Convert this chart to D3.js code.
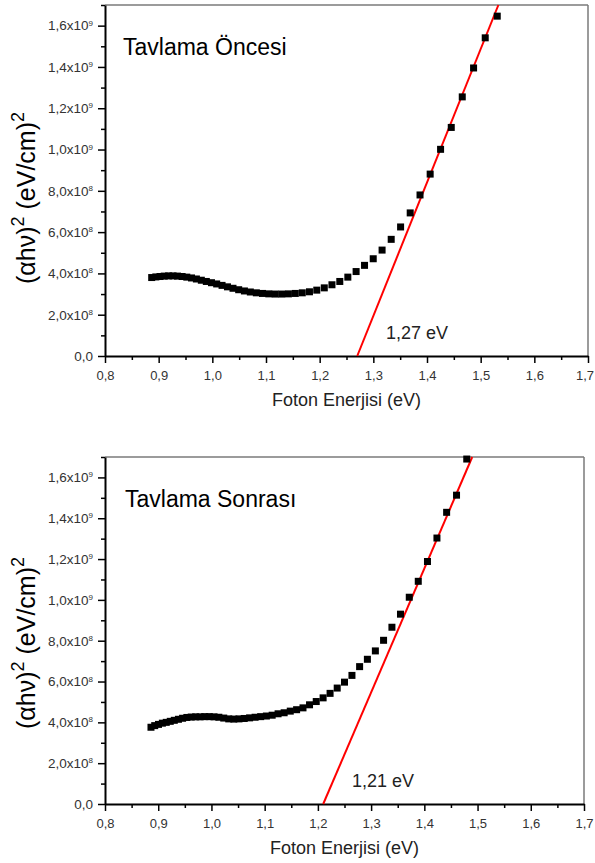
<!DOCTYPE html>
<html><head><meta charset="utf-8">
<script src="https://cdn.jsdelivr.net/npm/d3@7"></script>
<style>body{margin:0;background:#fff;} svg{display:block;font-family:"Liberation Sans",Arial,sans-serif;}</style>
</head><body><svg id="c" width="595" height="863"></svg>
<script>
// ---- DATA ----
const energyBefore = [1.5309,1.5085,1.4868,1.4657,1.4452,1.4253,1.4059,1.3870,1.3687,1.3508,1.3333,1.3163,1.2998,1.2836,1.2679,1.2525,1.2375,1.2229,1.2086,1.1946,1.1810,1.1676,1.1546,1.1418,1.1293,1.1171,1.1052,1.0935,1.0820,1.0708,1.0598,1.0491,1.0385,1.0282,1.0181,1.0081,0.9984,0.9888,0.9795,0.9703,0.9612,0.9524,0.9437,0.9351,0.9268,0.9185,0.9104,0.9025,0.8947,0.8870];
const valueBefore = [16.46,15.41,13.95,12.55,11.07,10.01,8.81,7.80,6.93,6.25,5.65,5.13,4.71,4.39,4.09,3.82,3.61,3.45,3.30,3.19,3.11,3.06,3.03,3.01,3.00,3.00,3.01,3.03,3.06,3.10,3.15,3.21,3.28,3.35,3.42,3.49,3.55,3.61,3.67,3.73,3.78,3.82,3.85,3.87,3.88,3.88,3.87,3.85,3.83,3.80]; // x1e8
const energyAfter = [1.4797,1.4605,1.4419,1.4237,1.4059,1.3886,1.3717,1.3552,1.3391,1.3234,1.3080,1.2930,1.2784,1.2640,1.2500,1.2363,1.2229,1.2098,1.1969,1.1843,1.1720,1.1600,1.1481,1.1366,1.1252,1.1141,1.1032,1.0925,1.0820,1.0717,1.0616,1.0517,1.0420,1.0325,1.0231,1.0139,1.0049,0.9960,0.9873,0.9787,0.9703,0.9620,0.9538,0.9458,0.9380,0.9302,0.9226,0.9151,0.9078,0.9005,0.8934,0.8864];
const valueAfter = [16.90,15.13,14.29,13.03,11.88,10.91,10.13,9.30,8.66,8.02,7.50,7.09,6.73,6.30,5.97,5.68,5.42,5.20,5.02,4.86,4.71,4.62,4.55,4.47,4.42,4.35,4.31,4.28,4.25,4.22,4.19,4.17,4.16,4.17,4.21,4.25,4.27,4.28,4.28,4.27,4.27,4.26,4.24,4.20,4.15,4.10,4.05,4.00,3.96,3.90,3.84,3.76]; // x1e8
const fitBeforeE = [1.27, 1.533];
const fitBeforeV = [0, 17];
const fitAfterE = [1.21, 1.490];
const fitAfterV = [0, 17];
const xTicks = [0.8,0.9,1.0,1.1,1.2,1.3,1.4,1.5,1.6,1.7];
const xMinor = [0.85,0.95,1.05,1.15,1.25,1.35,1.45,1.55,1.65];
const yTicks = [0,2,4,6,8,10,12,14,16]; // x1e8
const yMinor = [1,3,5,7,9,11,13,15,17];
const titles = ["Tavlama Öncesi","Tavlama Sonrası"];
const gapLabels = ["1,27 eV","1,21 eV"];
const xTitle = "Foton Enerjisi (eV)";

// ---- LAYOUT ----
const panels = [
  {E:energyBefore, V:valueBefore, fE:fitBeforeE, fV:fitBeforeV, title:titles[0], gap:gapLabels[0],
   x0:105, x1:588, y0:356, y1:5, tX:123, tY:55, gX:386, gY:339, xtY:406, ytX:35, ytCY:198},
  {E:energyAfter, V:valueAfter, fE:fitAfterE, fV:fitAfterV, title:titles[1], gap:gapLabels[1],
   x0:105, x1:584, y0:804, y1:457, tX:125, tY:507, gX:352, gY:787, xtY:854, ytX:35, ytCY:643}
];

const svg = d3.select("#c");

function fmtX(d){ return d.toFixed(1).replace(".", ","); }

panels.forEach(p => {
  const x = d3.scaleLinear().domain([0.8,1.7]).range([p.x0,p.x1]);
  const y = d3.scaleLinear().domain([0,17]).range([p.y0,p.y1]);
  const g = svg.append("g");

  // frame top/right
  g.append("line").attr("x1",p.x0).attr("x2",p.x1).attr("y1",p.y1).attr("y2",p.y1)
    .attr("stroke","#7a7a7a").attr("stroke-width",1.5);
  g.append("line").attr("x1",p.x1).attr("x2",p.x1).attr("y1",p.y1).attr("y2",p.y0)
    .attr("stroke","#7a7a7a").attr("stroke-width",1.5);

  // x axis
  const xa = g.append("g").attr("transform",`translate(0,${p.y0})`)
    .call(d3.axisBottom(x).tickValues(xTicks).tickSize(7).tickSizeOuter(0).tickPadding(6).tickFormat(fmtX));
  g.append("g").attr("transform",`translate(0,${p.y0})`)
    .call(d3.axisBottom(x).tickValues(xMinor).tickSize(4).tickSizeOuter(0).tickFormat(""))
    .call(s=>s.select(".domain").remove());
  // y axis
  const ya = g.append("g").attr("transform",`translate(${p.x0},0)`)
    .call(d3.axisLeft(y).tickValues(yTicks).tickSize(7).tickSizeOuter(0).tickPadding(5));
  g.append("g").attr("transform",`translate(${p.x0},0)`)
    .call(d3.axisLeft(y).tickValues(yMinor).tickSize(4).tickSizeOuter(0).tickFormat(""))
    .call(s=>s.select(".domain").remove());

  g.selectAll(".tick line").attr("stroke","#000").attr("stroke-width",1.5);
  xa.select(".domain").attr("stroke","#000").attr("stroke-width",2);
  ya.select(".domain").attr("stroke","#000").attr("stroke-width",2);
  xa.selectAll(".tick text").attr("font-size",13).attr("fill","#333")
    .attr("font-family","'Liberation Sans',Arial,sans-serif").attr("dy","0.85em")
    .each(function(d){
      // keep the last label inside the page
      const bb = this.getBBox();
      const ctm = this.getCTM();
      const right = ctm.e + bb.x + bb.width;
      if (right > 594) d3.select(this).attr("dx", (594 - right));
    });
  ya.selectAll(".tick text").attr("font-size",13.5).attr("fill","#333")
    .attr("font-family","'Liberation Sans',Arial,sans-serif")
    .each(function(d){
      const t = d3.select(this); t.text(null);
      if (d === 0) { t.text("0,0"); return; }
      const exp = d >= 10 ? 9 : 8;
      const man = d >= 10 ? d/10 : d;
      t.append("tspan").text(man.toFixed(1).replace(".", ",") + "x10");
      t.append("tspan").text(exp).attr("font-size",8).attr("dy","-0.6em");
    });

  // fit line
  const fit = p.fE.map((e,i)=>[e,p.fV[i]]);
  g.append("path").datum(fit)
    .attr("d", d3.line().x(d=>x(d[0])).y(d=>y(d[1])))
    .attr("stroke","#ff0000").attr("stroke-width",2).attr("fill","none");

  // points
  const pts = p.E.map((e,i)=>[e,p.V[i]]);
  const s = 7;
  g.append("g").selectAll("rect").data(pts).join("rect")
    .attr("x",d=>x(d[0])-s/2).attr("y",d=>y(d[1])-s/2)
    .attr("width",s).attr("height",s).attr("fill","#000");

  // texts
  g.append("text").attr("x",p.tX).attr("y",p.tY).attr("font-size",23).attr("fill","#000").text(p.title);
  g.append("text").attr("x",p.gX).attr("y",p.gY).attr("font-size",18).attr("fill","#222").text(p.gap);
  g.append("text").attr("x",(p.x0+p.x1)/2).attr("y",p.xtY).attr("text-anchor","middle")
    .attr("font-size",18).attr("fill","#222").text(xTitle);

  const yt = g.append("text").attr("transform",`translate(${p.ytX},${p.ytCY}) rotate(-90)`)
    .attr("text-anchor","middle").attr("font-size",25).attr("fill","#000");
  yt.append("tspan").text("(αhν)");
  yt.append("tspan").text("2").attr("font-size",18).attr("dy",-11);
  yt.append("tspan").text(" (eV/cm)").attr("dy",11);
  yt.append("tspan").text("2").attr("font-size",18).attr("dy",-11);
});
</script></body></html>
